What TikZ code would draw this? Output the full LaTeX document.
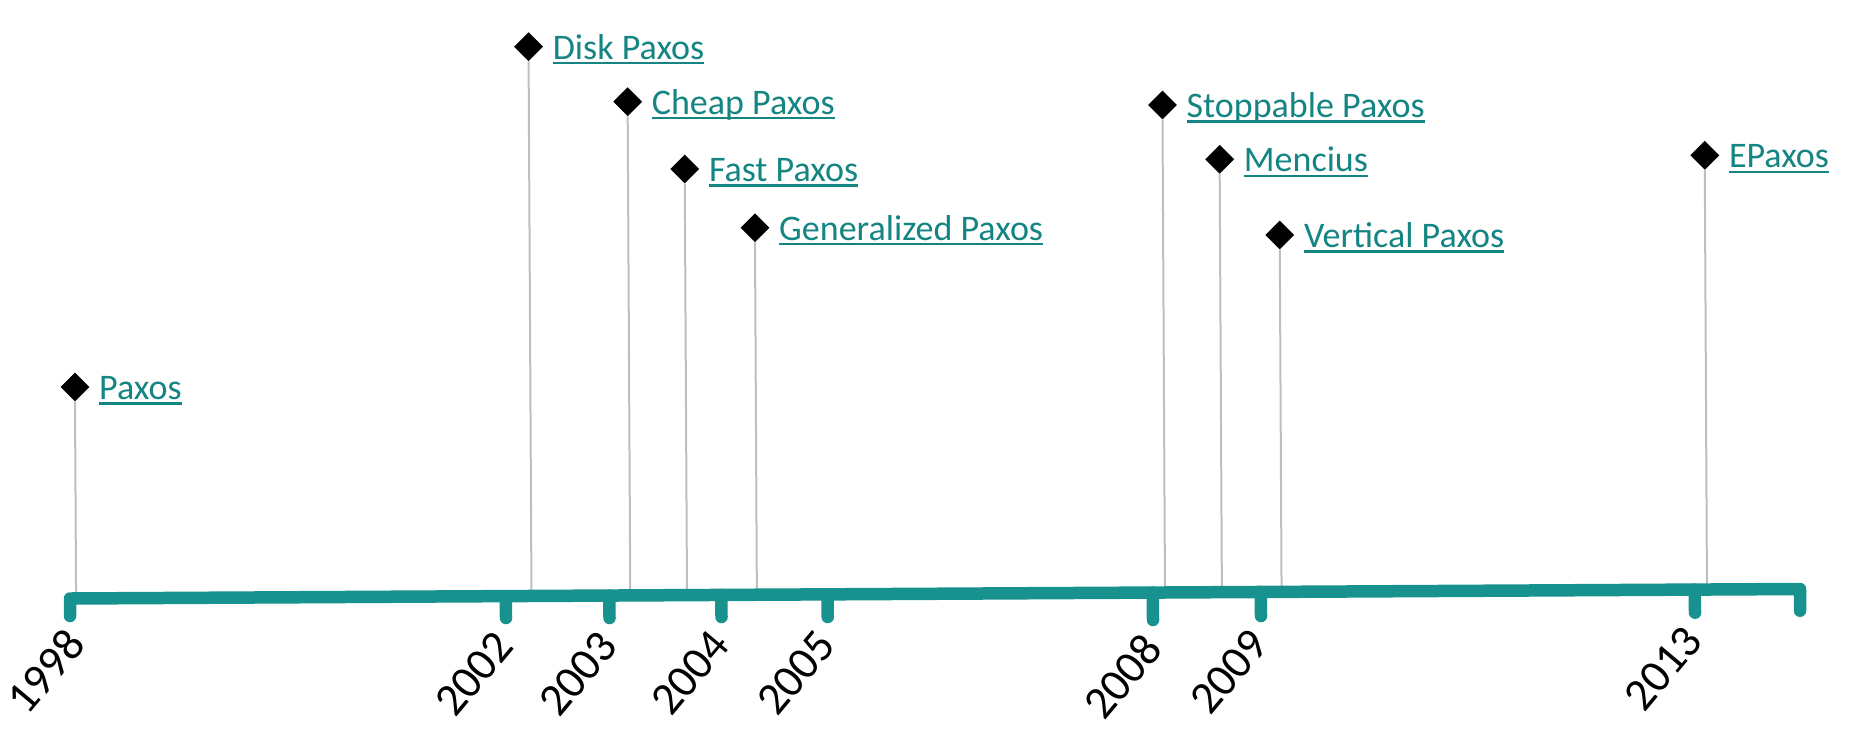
\documentclass[tikz,border=0pt]{standalone}
\usepackage{fontspec}
\setmainfont{Carlito}
\usetikzlibrary{shapes.geometric,calc}
\definecolor{axisteal}{RGB}{23,146,143}
\definecolor{labelteal}{RGB}{20,133,130}
\definecolor{stemgray}{RGB}{190,190,190}
\begin{document}
\begin{tikzpicture}[x=1pt,y=-1pt,
  stemline/.style={draw=stemgray, line width=2pt},
  dmd/.style={diamond, fill=black, inner sep=0pt, minimum width=29pt, minimum height=29pt},
  evlabel/.style={anchor=base west, inner sep=0pt, text=labelteal, font=\fontsize{36}{40}\selectfont},
  uline/.style={draw=labelteal, line width=2.5pt},
  axisline/.style={draw=axisteal, line width=12.5pt, line cap=round, line join=round},
  yearlabel/.style={anchor=north east, inner sep=0pt, rotate=50, font=\fontsize{46}{50}\selectfont}
]
\useasboundingbox (0,0) rectangle (1866,732);

% axis reference points
\coordinate (axL) at (70,598.5);
\coordinate (axR) at (1800,589);
% tick ends
\coordinate (t1998) at (70,616);
\coordinate (t2002) at (506,618);
\coordinate (t2003) at (609.5,618);
\coordinate (t2004) at (721.5,617);
\coordinate (t2005) at (827.7,617);
\coordinate (t2008) at (1153,620);
\coordinate (t2009) at (1261,616);
\coordinate (t2013) at (1695,612.7);
\coordinate (tend) at (1800,610.7);

% events: diamonds
\node[dmd] (d1) at (75,387) {};
\node[dmd] (d2) at (528.6,46.7) {};
\node[dmd] (d3) at (627.7,101.7) {};
\node[dmd] (d4) at (684.8,169) {};
\node[dmd] (d5) at (755,227.7) {};
\node[dmd] (d6) at (1162.5,105) {};
\node[dmd] (d7) at (1219.7,159.3) {};
\node[dmd] (d8) at (1279.8,235) {};
\node[dmd] (d9) at (1704.8,155.3) {};

% stems
\foreach \d in {d1,d2,d3,d4,d5,d6,d7,d8,d9}
  \draw[stemline] (\d.south) -- ($(axL)!(\d.south)!(axR)$);

% labels
\node[evlabel] (l1) at ($(d1)+(24,12.5)$) {Paxos~};
\node[evlabel] (l2) at ($(d2)+(24,12.5)$) {Disk Paxos~};
\node[evlabel] (l3) at ($(d3)+(24,12.5)$) {Cheap Paxos~};
\node[evlabel] (l4) at ($(d4)+(24,12.5)$) {Fast Paxos~};
\node[evlabel] (l5) at ($(d5)+(24,12.5)$) {Generalized Paxos~};
\node[evlabel] (l6) at ($(d6)+(24,12.5)$) {Stoppable Paxos~};
\node[evlabel] (l7) at ($(d7)+(24,12.5)$) {Mencius~};
\node[evlabel] (l8) at ($(d8)+(24,12.5)$) {Vertical Paxos~};
\node[evlabel] (l9) at ($(d9)+(24,12.5)$) {EPaxos~};
\foreach \l in {l1,l2,l3,l4,l5,l6,l7,l8,l9}
  \draw[uline] ($(\l.base west)+(0,4)$) -- ($(\l.base east)+(0,4)$);

% axis
\draw[axisline] (t1998) -- (axL) -- (axR) -- (tend);
\foreach \t in {t2002,t2003,t2004,t2005,t2008,t2009,t2013}
  \draw[axisline] ($(axL)!(\t)!(axR)$) -- (\t);

% years
\node[yearlabel] (y1998) at ($(t1998)+(-7,9)$) {1998};
\node[yearlabel] (y2002) at ($(t2002)+(-13,10)$) {2002};
\node[yearlabel] (y2003) at ($(t2003)+(-13,10)$) {2003};
\node[yearlabel] (y2004) at ($(t2004)+(-13,10)$) {2004};
\node[yearlabel] (y2005) at ($(t2005)+(-13,10)$) {2005};
\node[yearlabel] (y2008) at ($(t2008)+(-13,10)$) {2008};
\node[yearlabel] (y2009) at ($(t2009)+(-13,10)$) {2009};
\node[yearlabel] (y2013) at ($(t2013)+(-13,10)$) {2013};
\end{tikzpicture}
\end{document}
